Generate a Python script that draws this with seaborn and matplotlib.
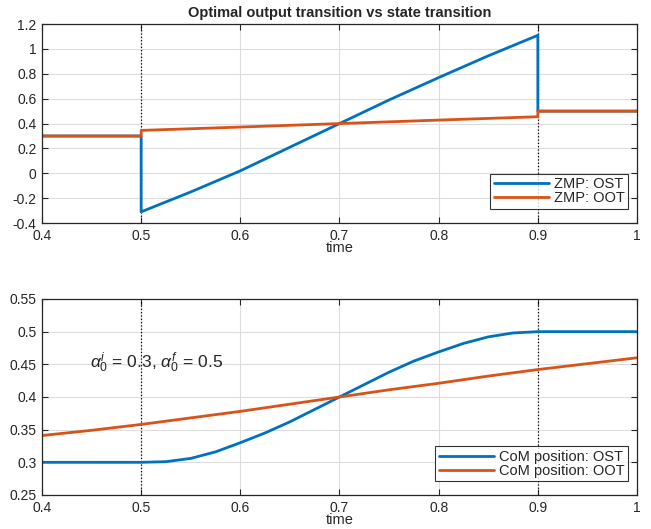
import matplotlib
matplotlib.use("Agg")
import matplotlib.pyplot as plt
import seaborn as sns

# ZMP (top panel)
zmp_t_ost = [0.4, 0.5, 0.5, 0.55, 0.6, 0.65, 0.7, 0.75, 0.8, 0.85, 0.9, 0.9, 1.0]
zmp_ost = [0.3, 0.3, -0.31, -0.15, 0.02, 0.21, 0.40, 0.59, 0.77, 0.945, 1.11, 0.5, 0.5]
zmp_t_oot = [0.4, 0.5, 0.5, 0.6, 0.7, 0.8, 0.9, 0.9, 1.0]
zmp_oot = [0.3, 0.3, 0.345, 0.372, 0.40, 0.428, 0.455, 0.5, 0.5]

# CoM (bottom panel)
com_t_ost = [0.4, 0.5, 0.525, 0.55, 0.575, 0.6, 0.625, 0.65, 0.675, 0.7,
             0.725, 0.75, 0.775, 0.8, 0.825, 0.85, 0.875, 0.9, 1.0]
com_ost = [0.3, 0.3, 0.301, 0.306, 0.316, 0.330, 0.345, 0.362, 0.381, 0.40,
           0.419, 0.438, 0.455, 0.469, 0.482, 0.492, 0.498, 0.5, 0.5]
com_t_oot = [0.4, 0.45, 0.5, 0.55, 0.6, 0.65, 0.7, 0.75, 0.8, 0.85, 0.9, 0.95, 1.0]
com_oot = [0.341, 0.349, 0.358, 0.368, 0.378, 0.389, 0.40, 0.411, 0.421, 0.432, 0.442, 0.451, 0.46]

switch_times = [0.5, 0.9]
blue = "#0072BD"
orange = "#D95319"

sns.set_style("ticks")
plt.rcParams["font.family"] = ["Liberation Sans", "DejaVu Sans"]
plt.rcParams["font.size"] = 10
plt.rcParams["mathtext.fontset"] = "custom"
plt.rcParams["mathtext.rm"] = "Liberation Sans"
plt.rcParams["mathtext.it"] = "Liberation Sans:italic"

fig = plt.figure(figsize=(6.51, 5.29), dpi=100)
ax1 = fig.add_axes([0.0645, 0.5784, 0.914, 0.376])
ax2 = fig.add_axes([0.0645, 0.0643, 0.914, 0.3705])


def style_axis(ax):
    ax.grid(True, color="#dddddd", linewidth=0.8)
    ax.set_axisbelow(True)
    ax.tick_params(direction="in", top=True, right=True, length=4,
                   width=0.8, colors="#262626", labelsize=10, pad=4)
    for s in ax.spines.values():
        s.set_color("#262626")
        s.set_linewidth(0.9)
    for t in switch_times:
        ax.axvline(t, color="black", linestyle=":", linewidth=0.9, zorder=1.5)
    ax.set_xlim(0.4, 1.0)
    ax.set_xticks([0.4, 0.5, 0.6, 0.7, 0.8, 0.9, 1.0])
    ax.set_xticklabels(["0.4", "0.5", "0.6", "0.7", "0.8", "0.9", "1"])
    ax.set_xlabel("time", fontsize=10.5, labelpad=-1)
    ax.set_ylabel("")


def style_legend(ax):
    leg = ax.legend(loc="lower right", bbox_to_anchor=(0.985, 0.07), fontsize=10.5,
                    frameon=True, fancybox=False, edgecolor="black",
                    handlelength=3.8, handletextpad=0.3, borderpad=0.25,
                    labelspacing=0.0, borderaxespad=0)
    leg.get_frame().set_linewidth(0.8)


# --- top: ZMP ---
sns.lineplot(x=zmp_t_ost, y=zmp_ost, ax=ax1, color=blue, linewidth=2,
             estimator=None, sort=False, label="ZMP: OST")
sns.lineplot(x=zmp_t_oot, y=zmp_oot, ax=ax1, color=orange, linewidth=2,
             estimator=None, sort=False, label="ZMP: OOT")
style_axis(ax1)
ax1.set_ylim(-0.4, 1.2)
ax1.set_yticks([-0.4, -0.2, 0, 0.2, 0.4, 0.6, 0.8, 1.0, 1.2])
ax1.set_yticklabels(["-0.4", "-0.2", "0", "0.2", "0.4", "0.6", "0.8", "1", "1.2"])
ax1.set_title("Optimal output transition vs state transition",
              fontsize=10.5, fontweight="bold", pad=5)
style_legend(ax1)

# --- bottom: CoM ---
sns.lineplot(x=com_t_ost, y=com_ost, ax=ax2, color=blue, linewidth=2,
             estimator=None, sort=False, label="CoM position: OST")
sns.lineplot(x=com_t_oot, y=com_oot, ax=ax2, color=orange, linewidth=2,
             estimator=None, sort=False, label="CoM position: OOT")
style_axis(ax2)
ax2.set_ylim(0.25, 0.55)
ax2.set_yticks([0.25, 0.3, 0.35, 0.4, 0.45, 0.5, 0.55])
ax2.set_yticklabels(["0.25", "0.3", "0.35", "0.4", "0.45", "0.5", "0.55"])
ax2.text(0.448, 0.453, r"$\alpha_0^i$ = 0.3, $\alpha_0^f$ = 0.5", fontsize=12.5,
         va="center", ha="left")
style_legend(ax2)

fig.savefig("out.png", dpi=100)
